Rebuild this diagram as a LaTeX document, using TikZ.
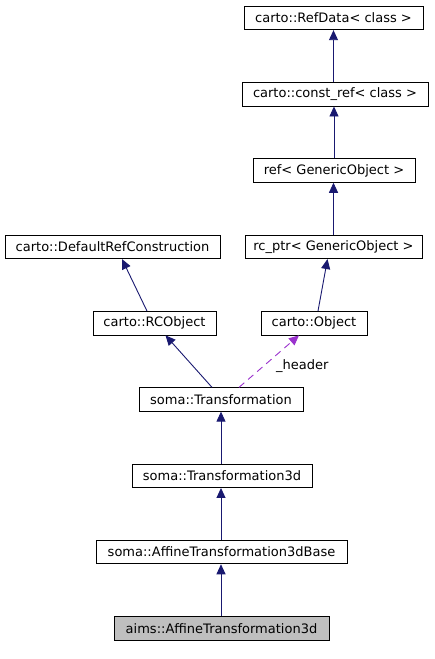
\documentclass[tikz,border=0pt]{standalone}
\usepackage{fontspec}
\setmainfont{DejaVu Sans}
\usetikzlibrary{arrows.meta}
\definecolor{edgeblue}{HTML}{191970}
\definecolor{edgepurple}{HTML}{9A32CD}
\definecolor{curgray}{HTML}{BFBFBF}
\begin{document}
\begin{tikzpicture}[x=1pt,y=-1pt,
  box/.style={draw=black, line width=0.8pt, fill=white, inner sep=0pt,
    minimum height=23.5pt, font=\fontsize{13}{15}\selectfont, anchor=center},
  inh/.style={draw=edgeblue, line width=0.9pt, -{Triangle[length=10pt,width=9pt]}},
  usage/.style={draw=edgepurple, line width=0.9pt, dash pattern=on 7pt off 5pt,
    -{Triangle[length=10pt,width=9pt]}},
  lbl/.style={font=\fontsize{13}{15}\selectfont, inner sep=0pt, anchor=west}]
\useasboundingbox (0,0) rectangle (434,659);
\node[box, minimum width=179pt] (refdata) at (333.5,18) {carto::RefData< class >};
\node[box, minimum width=186pt] (constref) at (335,94.3) {carto::const\_ref< class >};
\node[box, minimum width=162pt] (ref) at (334,170.6) {ref< GenericObject >};
\node[box, minimum width=177pt] (rcptr) at (333.5,246.9) {rc\_ptr< GenericObject >};
\node[box, minimum width=215pt] (drc) at (112.5,246.9) {carto::DefaultRefConstruction};
\node[box, minimum width=123pt] (rco) at (154.5,323.2) {carto::RCObject};
\node[box, minimum width=106pt] (obj) at (314,323.2) {carto::Object};
\node[box, minimum width=164pt] (tr) at (221,399.5) {soma::Transformation};
\node[box, minimum width=180pt] (tr3) at (222,475.8) {soma::Transformation3d};
\node[box, minimum width=251pt] (aff) at (221.5,552.1) {soma::AffineTransformation3dBase};
\node[box, minimum width=215pt, fill=curgray] (aims) at (221.5,628.4) {aims::AffineTransformation3d};

\draw[inh] (constref.north -| refdata.north) -- (refdata.south);
\draw[inh] (ref.north) -- (ref.north |- constref.south);
\draw[inh] (rcptr.north) -- (rcptr.north |- ref.south);
\draw[inh] ([xshift=-7.5pt]rco.north) -- ([xshift=9.5pt]drc.south);
\draw[inh] ([xshift=4pt]obj.north) -- ([xshift=-6pt]rcptr.south);
\draw[inh] ([xshift=-9pt]tr.north) -- ([xshift=11pt]rco.south);
\draw[usage] ([xshift=18pt]tr.north) -- ([xshift=-15pt]obj.south);
\node[lbl] (hdr) at (276,366) {\_header};
\draw[inh] (tr3.north -| tr.north) -- (tr.south);
\draw[inh] (aff.north -| tr.north) -- (tr.south |- tr3.south);
\draw[inh] (aims.north -| tr.north) -- (tr.south |- aff.south);
\end{tikzpicture}
\end{document}
